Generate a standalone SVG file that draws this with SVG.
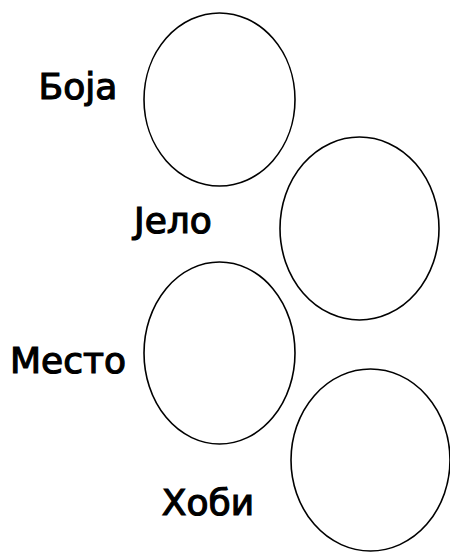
<svg xmlns="http://www.w3.org/2000/svg" width="450" height="552" viewBox="0 0 450 552">
<style>
.e{fill:none;stroke:#000;stroke-width:1.6}
.t{font-family:"DejaVu Sans","Noto Sans",sans-serif;font-size:36px;fill:#000;text-anchor:middle;stroke:#000;stroke-width:1.2}
</style>
<rect width="450" height="552" fill="#fff"/>
<g id="boja"><ellipse class="e" cx="219.5" cy="99.5" rx="75.5" ry="86.5"/><text class="t" x="78" y="99">Боја</text></g>
<g id="jelo"><ellipse class="e" cx="359.5" cy="228.5" rx="79.5" ry="91.5"/><text class="t" x="173" y="233">Јело</text></g>
<g id="mesto"><ellipse class="e" cx="219.5" cy="353" rx="75.5" ry="91"/><text class="t" x="68" y="373">Место</text></g>
<g id="hobi"><ellipse class="e" cx="370.5" cy="460" rx="79.5" ry="91"/><text class="t" x="208" y="515">Хоби</text></g>
<g id="connectors"/>
</svg>
